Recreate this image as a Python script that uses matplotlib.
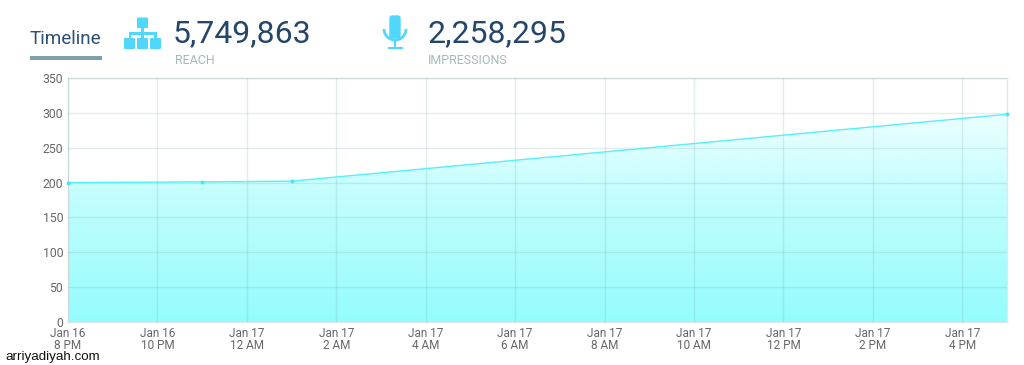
import numpy as np
import pandas as pd
import matplotlib
matplotlib.use('Agg')
import matplotlib.pyplot as plt
from matplotlib.patches import Rectangle, FancyBboxPatch, Arc
from matplotlib.colors import LinearSegmentedColormap

plt.rcParams['font.family'] = ['Roboto', 'DejaVu Sans']

times = pd.to_datetime(['2016-01-16 20:00', '2016-01-16 23:00', '2016-01-17 01:00', '2016-01-17 17:00'])
values = [200, 201, 202, 298]
tick_times = pd.date_range('2016-01-16 20:00', '2016-01-17 16:00', freq='2h')
tick_labels = ['Jan 16\n8 PM', 'Jan 16\n10 PM', 'Jan 17\n12 AM', 'Jan 17\n2 AM', 'Jan 17\n4 AM', 'Jan 17\n6 AM',
               'Jan 17\n8 AM', 'Jan 17\n10 AM', 'Jan 17\n12 PM', 'Jan 17\n2 PM', 'Jan 17\n4 PM']
y_ticks = [0, 50, 100, 150, 200, 250, 300, 350]
reach = '5,749,863'
impressions = '2,258,295'

W, H = 1024, 365
fig = plt.figure(figsize=(W / 100, H / 100), dpi=100, facecolor='white')
ax = fig.add_axes([68 / W, 1 - 322 / H, (1007 - 68) / W, (322 - 78) / H])

ax.set_xlim(times[0], times[-1])
ax.set_ylim(0, 350)

# gradient under the line, stops
x0, x1 = ax.get_xlim()
stops = [(0.0, '#f2ffff'), (0.22, '#dcfefe'), (0.38, '#c8fefe'), (0.69, '#aefdfd'), (1.0, '#94fcfc')]
cmap = LinearSegmentedColormap.from_list('fill', stops, 256)
grad = np.linspace(0, 1, 256).reshape(-1, 1)
im = ax.imshow(grad, extent=(x0, x1, 0, 320), aspect='auto', cmap=cmap, zorder=1, origin='upper')
poly = ax.fill_between(times, values, 0, color='none')
im.set_clip_path(poly.get_paths()[0], transform=ax.transData)
ax.set_xlim(x0, x1)
ax.set_ylim(0, 350)

ax.set_xticks(tick_times)
ax.set_xticklabels(tick_labels, fontsize=8.5, color='#666666', linespacing=0.9)
ax.set_yticks(y_ticks)
ax.set_yticklabels(y_ticks, fontsize=8.8, color='#666666')
ax.tick_params(length=0, pad=3.5)
ax.tick_params(axis='y', pad=3.5)
ax.grid(True, color='#6a9c9c', alpha=0.18, lw=1, zorder=2)
ax.set_axisbelow(False)
for s in ax.spines.values():
    s.set_color('#e0e8e8')
    s.set_linewidth(1)

ax.plot(times, values, color='#55f0f8', lw=1, zorder=3, clip_on=False)
ax.plot(times, values, ls='none', marker='o', ms=2.8, color='#40e8f4', mew=0, zorder=4, clip_on=False)

# header drawn in pixel coordinates
top = fig.add_axes([0, 0, 1, 1], facecolor='none')
top.set_xlim(0, W)
top.set_ylim(H, 0)
top.axis('off')

navy = '#24466b'
icon = '#4fd8fb'
grey = '#a6b8ba'

top.text(30, 44.5, 'Timeline', fontsize=13.6, color='#2f5073', va='baseline')
top.add_patch(Rectangle((29.5, 56), 72.5, 3.6, color='#7d9fae', lw=0))

top.text(172.5, 42, reach, fontsize=23, color=navy, va='baseline')
top.text(175, 64, 'REACH', fontsize=9, color=grey, va='baseline')
top.text(427.5, 42, impressions, fontsize=23, color=navy, va='baseline')
top.text(428, 64, 'IMPRESSIONS', fontsize=9, color=grey, va='baseline')


def box(x, y, w, h):
    top.add_patch(FancyBboxPatch((x + 1, y + 1), w - 2, h - 2, boxstyle='round,pad=1', color=icon, lw=0))


box(137, 17.5, 11, 10.5)
box(124, 38, 11, 11)
box(137, 38, 11, 11)
box(150, 38, 11, 11)
for r in [(141.2, 28, 2.6, 10), (128.5, 32, 28, 2.6), (128.5, 32, 2.6, 6), (154, 32, 2.6, 6)]:
    top.add_patch(Rectangle(r[:2], r[2], r[3], color=icon, lw=0))

top.add_patch(FancyBboxPatch((392.5, 18.5), 5, 17, boxstyle='round,pad=3.2', color=icon, lw=0))
top.add_patch(Arc((395, 29), 22, 22, theta1=0, theta2=180, color=icon, lw=2))
top.add_patch(Rectangle((393.7, 40), 2.6, 7, color=icon, lw=0))
top.add_patch(Rectangle((387.5, 46.5), 15, 2.8, color=icon, lw=0))

top.text(5, 360, 'arriyadiyah.com', fontsize=9.6, color='#111111', va='baseline', family='Liberation Sans')

fig.savefig('out.png', dpi=100)
